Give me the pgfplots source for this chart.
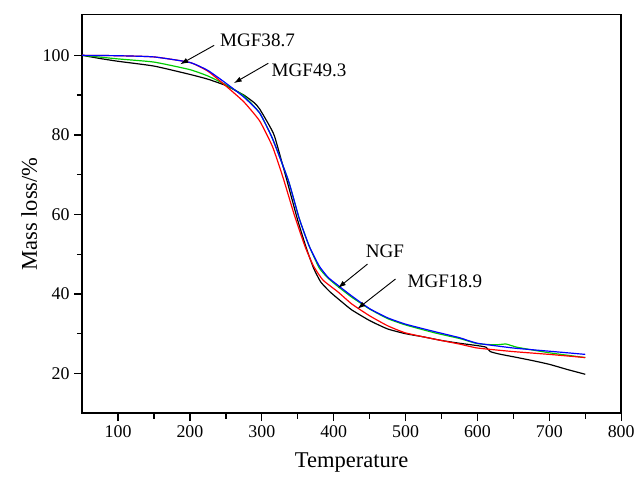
\documentclass[border=0pt]{standalone}
\usepackage{fontspec}
\setmainfont{Liberation Serif}
\usepackage{pgfplots}
\pgfplotsset{compat=1.18}
\usetikzlibrary{arrows.meta}

\begin{document}
\begin{tikzpicture}
\begin{axis}[
  name=ax,
  scale only axis,
  width=407pt,height=301pt,
  xmin=50,xmax=800,ymin=10,ymax=110.25,
  xtick={100,200,...,800},
  ytick={20,40,...,100},
  minor x tick num=1,
  minor y tick num=1,
  tick align=outside,
  xtick pos=left,ytick pos=left,
  major tick length=6pt,minor tick length=4pt,
  axis line style={line width=1.2pt},
  every tick/.style={black,line width=1pt},
  /pgf/number format/assume math mode=true,
  ticklabel style={font=\fontsize{13.5}{16}\selectfont},
  xlabel={Temperature},
  ylabel={Mass loss/\%},
  label style={font=\fontsize{17}{20}\selectfont},
  xlabel style={at={(axis description cs:0.5,0)},anchor=center,yshift=-37pt},
  ylabel style={at={(axis description cs:-0.098,0.5)},anchor=center},
  every axis plot/.append style={line width=0.9pt,mark=none,smooth,tension=0.3},
]
\addplot[black] coordinates {
 (50,100) (75,99.2) (100,98.5) (150,97.3) (200,95.2) (225,94) (250,92.4)
 (275,90) (290,88) (297,86.5) (310,82.5) (318,79.5) (335,68.5) (350,58.5)
 (362,51.5) (372,46.5) (382,43) (395,40.5) (410,38.2) (425,36) (450,33.3)
 (475,31.2) (500,30) (525,29.2) (550,28.3) (575,27.6) (600,27) (612,26.6)
 (618,25.5) (630,24.9) (650,24.2) (675,23.3) (700,22.3) (725,21) (750,19.8)
};
\addplot[green!80!black] coordinates {
 (50,100) (100,99.1) (150,98.3) (200,96.4) (225,94.8) (250,92.6) (275,89.8)
 (297,85.5) (315,79) (337,68.5) (352,59) (366,52) (380,46.5) (392,44)
 (405,42) (425,39.2) (450,36.2) (475,33.8) (500,32.2) (541,30.2) (575,28.8)
 (600,27.5) (625,27.2) (640,27.4) (655,26.6) (700,25.2) (750,24)
};
\addplot[red] coordinates {
 (50,100) (100,99.9) (150,99.6) (200,98.2) (225,96) (250,92.3) (275,88.3)
 (297,83.5) (315,77) (330,69) (345,60) (360,52) (372,47) (385,43.5)
 (406,40.5) (425,37.5) (450,34.5) (475,32) (500,30.2) (541,28.6) (575,27.4)
 (600,26.4) (650,25.5) (700,24.8) (750,24)
};
\addplot[blue] coordinates {
 (50,100) (100,99.9) (150,99.6) (200,98.2) (225,96.2) (250,93) (275,89.5)
 (297,85.5) (315,79) (337,68.5) (352,59) (366,52) (380,47) (392,44.2)
 (405,42.3) (425,39.5) (450,36.3) (475,34) (500,32.4) (541,30.5) (575,29)
 (600,27.6) (650,26.4) (700,25.6) (750,24.8)
};
\begin{scope}[font=\fontsize{14.4}{17}\selectfont]
\node[anchor=west,inner sep=0pt] at (axis cs:241.7,103.75) {MGF38.7};
\node[anchor=west,inner sep=0pt] at (axis cs:313.4,96.25) {MGF49.3};
\node[anchor=west,inner sep=0pt] at (axis cs:444.5,50.75) {NGF};
\node[anchor=west,inner sep=0pt] at (axis cs:502.4,43.25) {MGF18.9};
\end{scope}
\begin{scope}[-{Latex[length=6pt,width=4pt]},line width=0.7pt]
\draw (axis cs:233.6,102.5) -- (axis cs:186.5,97.75);
\draw (axis cs:309,98) -- (axis cs:261,93);
\draw (axis cs:447,47.5) -- (axis cs:406,41.5);
\draw (axis cs:486,43.75) -- (axis cs:433,36.25);
\end{scope}
\end{axis}
\path ([xshift=-62pt,yshift=-49pt]ax.south west) rectangle ([xshift=10pt,yshift=11pt]ax.north east);
\end{tikzpicture}
\end{document}
